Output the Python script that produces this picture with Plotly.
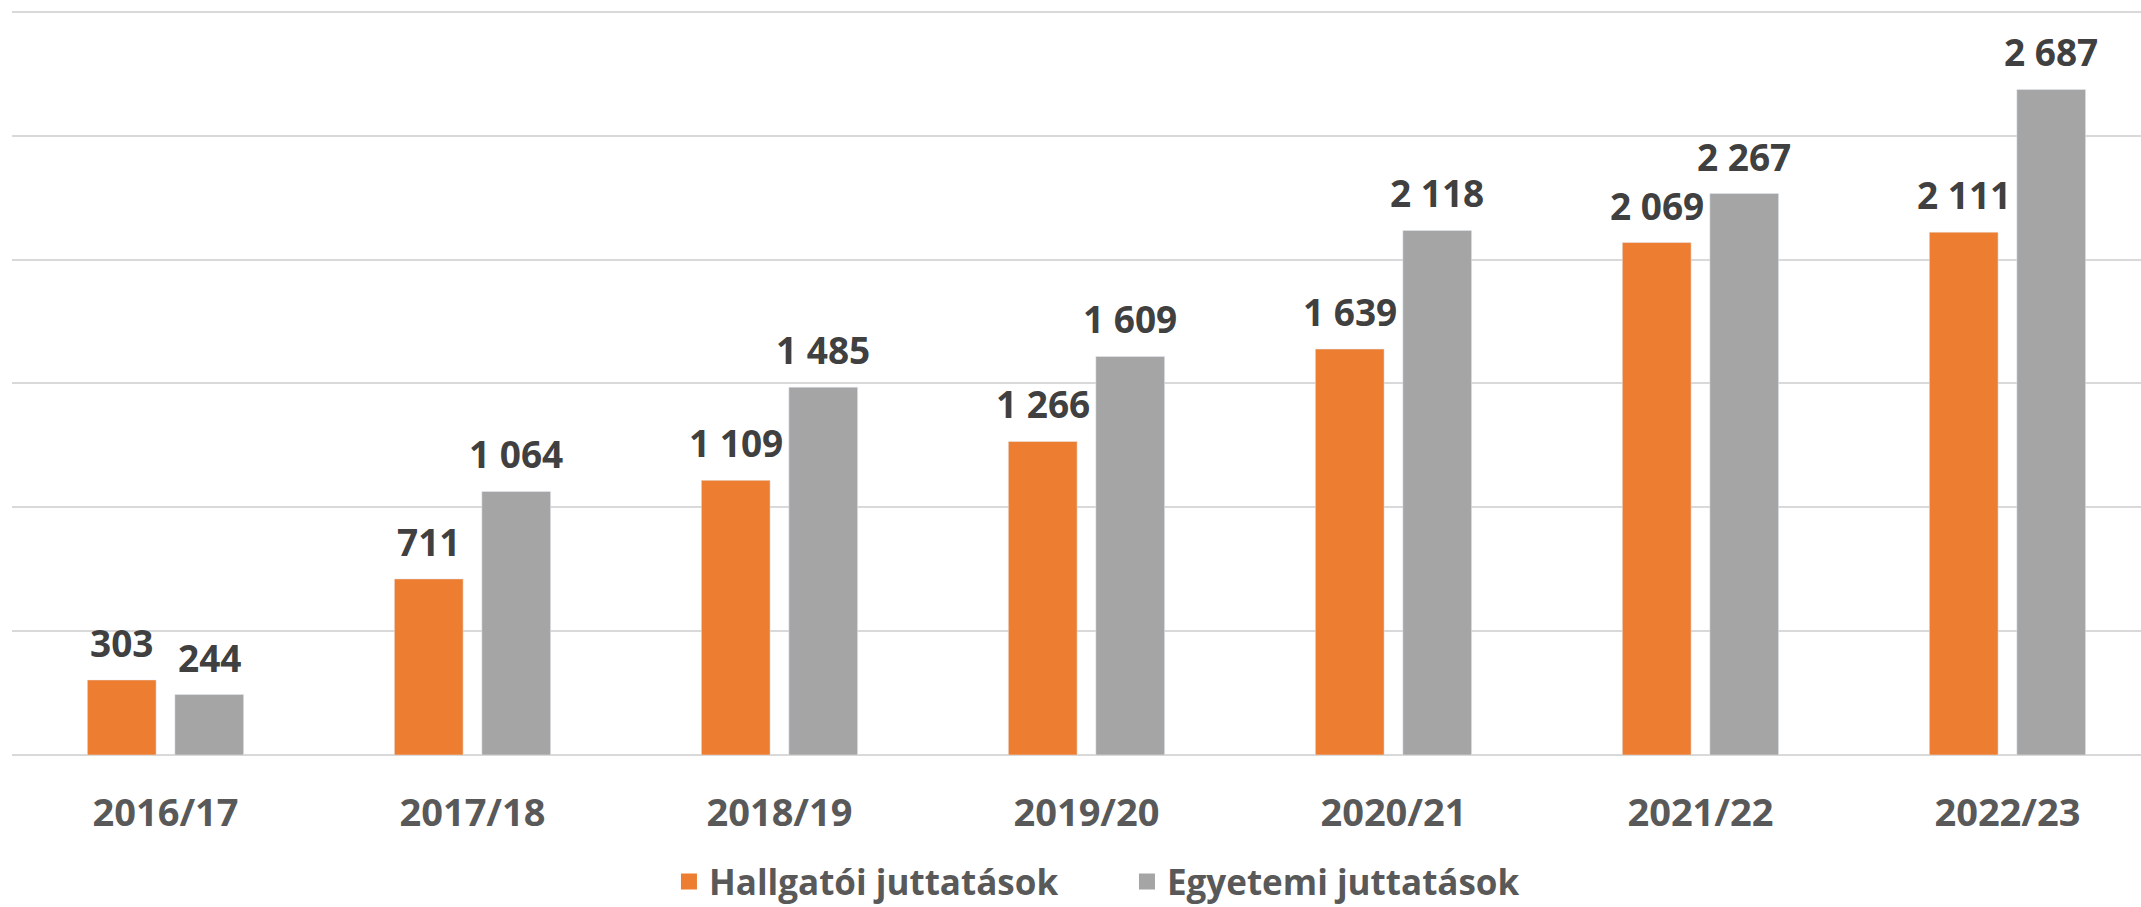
import plotly.graph_objects as go

# Academic years and the two benefit series
years = ["2016/17", "2017/18", "2018/19", "2019/20", "2020/21", "2021/22", "2022/23"]
hallgatoi = [303, 711, 1109, 1266, 1639, 2069, 2111]
egyetemi = [244, 1064, 1485, 1609, 2118, 2267, 2687]
series_names = ["Hallgatói juttatások", "Egyetemi juttatások"]

ORANGE = "#ED7D31"
GREY = "#A5A5A5"
FONT = "Open Sans"


def fmt(v):
    return f"{v:,}".replace(",", " ")


fig = go.Figure()
fig.add_trace(go.Bar(x=years, y=hallgatoi, name=series_names[0],
                     marker_color=ORANGE, showlegend=False))
fig.add_trace(go.Bar(x=years, y=egyetemi, name=series_names[1],
                     marker_color=GREY, showlegend=False))

# legend entries with bigger square swatches than the default bar icon
for name, color in zip(series_names, (ORANGE, GREY)):
    fig.add_trace(go.Scatter(
        x=[None], y=[None], mode="markers", name=name,
        marker=dict(symbol="square", size=16, color=color),
    ))

# Value labels above the bars
half = 0.1425
for i, (a, b) in enumerate(zip(hallgatoi, egyetemi)):
    for xpos, val in ((i - half, a), (i + half, b)):
        fig.add_annotation(
            x=xpos, y=val, text=fmt(val), showarrow=False,
            yanchor="bottom", yshift=10,
            font=dict(family=FONT, size=37, color="#404040", weight="bold"),
        )

fig.update_layout(
    width=2141,
    height=907,
    margin=dict(l=12, r=0, t=9, b=152, autoexpand=False),
    plot_bgcolor="white",
    paper_bgcolor="white",
    barmode="group",
    bargap=0.43,
    bargroupgap=0.214,
    showlegend=True,
    legend=dict(
        orientation="h",
        x=0.5237, xanchor="center",
        y=-0.170, yanchor="middle",
        font=dict(family=FONT, size=35, color="#595959", weight="bold"),
        entrywidth=413,
        itemsizing="trace",
    ),
)

fig.update_xaxes(
    range=[-0.5, 6.435],
    showgrid=False,
    ticks="",
    tickfont=dict(family=FONT, size=38, color="#595959", weight="bold"),
    ticklabelstandoff=32,
)
fig.update_yaxes(
    range=[0, 3012],
    dtick=500,
    showticklabels=False,
    gridcolor="#D9D9D9",
    gridwidth=2,
    zeroline=True,
    zerolinecolor="#D9D9D9",
    zerolinewidth=2,
)

# drop the default 8px body margin so the figure sits flush in the window
fig.write_html(
    "out.html",
    config={"displayModeBar": False},
    post_script="document.body.style.margin='0';",
)
